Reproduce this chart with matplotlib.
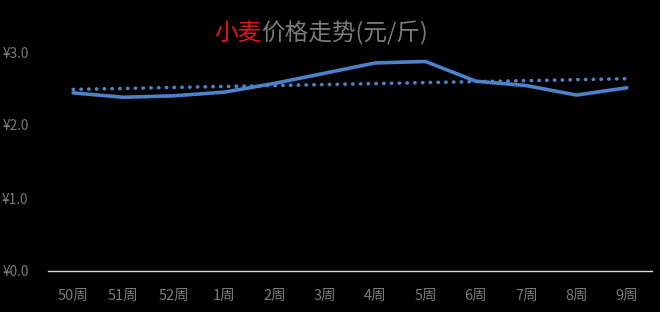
import numpy as np
import matplotlib
matplotlib.use("Agg")
import matplotlib.pyplot as plt

plt.rcParams['font.family'] = ['Noto Sans CJK SC', 'DejaVu Sans']

weeks = ["50周", "51周", "52周", "1周", "2周", "3周", "4周", "5周", "6周", "7周", "8周", "9周"]
prices = [2.44, 2.38, 2.40, 2.45, 2.57, 2.71, 2.85, 2.87, 2.60, 2.54, 2.41, 2.51]
y_ticks = [0.0, 1.0, 2.0, 3.0]
y_tick_labels = ["¥0.0", "¥1.0", "¥2.0", "¥3.0"]

line_color = "#4F81C8"
text_gray = "#7A7A7A"

fig = plt.figure(figsize=(6.6, 3.12), dpi=100, facecolor="black")
ax = fig.add_axes([48/660, 1 - 271/312, 604/660, (271 - 52)/312])
ax.set_facecolor("black")

x = np.arange(len(weeks))
ax.plot(x, prices, color=line_color, lw=2.6, solid_capstyle="round", solid_joinstyle="round", zorder=3)

# linear trend line through the weekly prices
slope, intercept = np.polyfit(x, prices, 1)
ax.plot(x, slope * x + intercept, color=line_color, lw=2.6,
        linestyle=(0, (0.1, 2.05)), dash_capstyle="round", zorder=2)

ax.set_xlim(-0.5, len(weeks) - 0.5)
ax.set_ylim(0, 3.0)
ax.set_xticks(x)
ax.set_xticklabels(weeks)
ax.set_yticks(y_ticks)
ax.set_yticklabels(y_tick_labels)

for side in ["top", "right", "left"]:
    ax.spines[side].set_visible(False)
ax.spines["bottom"].set_color("#D9D9D9")
ax.spines["bottom"].set_linewidth(1.0)

ax.tick_params(axis="x", length=0, pad=13, labelsize=10.5, labelcolor=text_gray)
ax.tick_params(axis="y", length=0, pad=14, labelsize=9.8, labelcolor=text_gray)

# two-tone title
ty = 1 - 33/312
fig.text(261/660, ty, "小麦", color="#E3151A", fontsize=17, ha="right", va="center")
fig.text(261/660, ty, "价格走势(元/斤)", color=text_gray, fontsize=17, ha="left", va="center")

fig.savefig("out.png", dpi=100, facecolor="black")
